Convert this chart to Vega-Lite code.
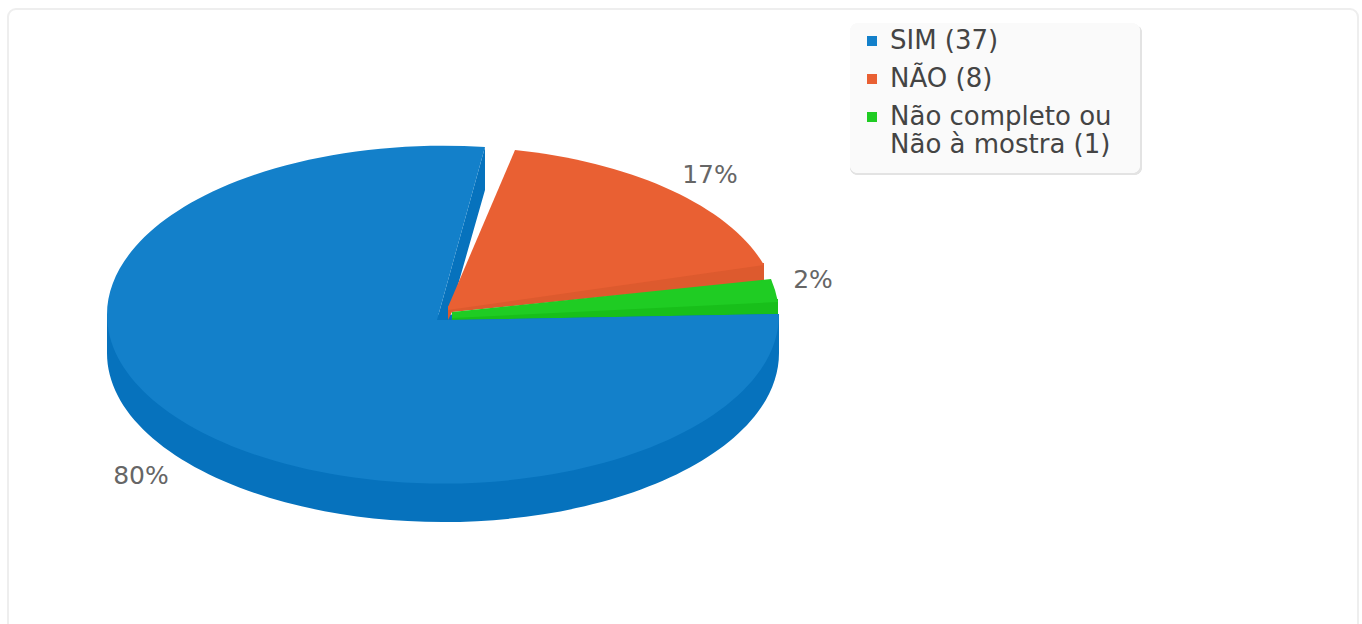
{"$schema":"https://vega.github.io/schema/vega-lite/v6.json","width":1350,"height":640,"autosize":{"type":"none"},"padding":{"left":8,"top":9,"right":4,"bottom":0},"background":"#ffffff","config":{"view":{"stroke":"#eeeeee","strokeWidth":2,"cornerRadius":8},"font":"DejaVu Sans"},"datasets":{"slices":[{"answer":"SIM (37)","count":37,"share":0.8},{"answer":"NÃO (8)","count":8,"share":0.17},{"answer":"Não completo ou Não à mostra (1)","count":1,"share":0.02}]},"data":{"name":"slices"},"resolve":{"scale":{"x":"independent","y":"independent","shape":"independent","color":"independent"}},"layer":[{"mark":{"type":"point","filled":true,"opacity":1,"strokeWidth":0,"color":"#e3e3e3","shape":"M415,-290 H691 A8,8 0 0 1 699,-282 V-148 A8,8 0 0 1 691,-140 H415 A8,8 0 0 1 407,-148 V-282 A8,8 0 0 1 415,-290 Z"},"encoding":{"x":{"datum":435,"type":"quantitative","scale":{"domain":[0,1350]},"axis":null},"y":{"datum":306,"type":"quantitative","scale":{"domain":[0,640],"reverse":true},"axis":null},"size":{"value":4}}},{"mark":{"type":"point","filled":true,"opacity":1,"strokeWidth":0,"color":"#fafafa","shape":"M415,-292 H689 A8,8 0 0 1 697,-284 V-150 A8,8 0 0 1 689,-142 H415 A8,8 0 0 1 407,-150 V-284 A8,8 0 0 1 415,-292 Z"},"encoding":{"x":{"datum":435,"type":"quantitative","scale":{"domain":[0,1350]},"axis":null},"y":{"datum":306,"type":"quantitative","scale":{"domain":[0,640],"reverse":true},"axis":null},"size":{"value":4}}},{"mark":{"type":"point","filled":true,"opacity":1,"strokeWidth":0},"encoding":{"x":{"datum":435,"type":"quantitative","scale":{"domain":[0,1350]},"axis":null},"y":{"datum":306,"type":"quantitative","scale":{"domain":[0,640],"reverse":true},"axis":null},"size":{"value":4},"shape":{"field":"answer","type":"nominal","legend":null,"scale":{"domain":["SIM (37)","NÃO (8)","Não completo ou Não à mostra (1)"],"range":["M336,-1 V38 A336,169 0 0 1 -336,38 V0 Z M42,-168 L42,-125 L5,5 L-6,5 Z","M321,-52 L321,-34 L9,-3 L5,5 L5,-9 Z","M335,-16 L335,-1 L9,5 L9,1 Z"]}},"color":{"field":"answer","type":"nominal","legend":null,"scale":{"domain":["SIM (37)","NÃO (8)","Não completo ou Não à mostra (1)"],"range":["#0672bd","#dd5a2e","#18bf1a"]}}}},{"mark":{"type":"point","filled":true,"opacity":1,"strokeWidth":0},"encoding":{"x":{"datum":435,"type":"quantitative","scale":{"domain":[0,1350]},"axis":null},"y":{"datum":306,"type":"quantitative","scale":{"domain":[0,640],"reverse":true},"axis":null},"size":{"value":4},"shape":{"field":"answer","type":"nominal","legend":null,"scale":{"domain":["SIM (37)","NÃO (8)","Não completo ou Não à mostra (1)"],"range":["M336,-1 A336,169 0 0 1 -336,0 A336,169 0 0 1 42,-168 L-6,5 L5,5 Z","M5,-8 L72,-165 A330,165 0 0 1 321,-50 L5,-5 Z","M9,-3 L328,-36 L332,-25 L335,-13 L9,3 Z"]}},"color":{"field":"answer","type":"nominal","legend":null,"scale":{"domain":["SIM (37)","NÃO (8)","Não completo ou Não à mostra (1)"],"range":["#1380ca","#e96033","#1fcc23"]}}}},{"mark":{"type":"square","filled":true,"opacity":1,"size":0,"strokeWidth":0},"encoding":{"color":{"field":"answer","type":"nominal","title":null,"scale":{"domain":["SIM (37)","NÃO (8)","Não completo ou Não à mostra (1)"],"range":["#1380ca","#e96033","#1fcc23"]},"legend":{"orient":"none","legendX":851,"legendY":19,"padding":0,"symbolType":"square","symbolSize":100,"symbolStrokeWidth":0,"labelFontSize":26,"labelColor":"#444444","labelFont":"DejaVu Sans","labelLimit":300,"labelOffset":5,"rowPadding":12,"labelExpr":"split(replace(datum.label,' ou ',' ou|'),'|')"}}}},{"mark":{"type":"text","fontSize":25,"color":"#666666","align":"center","baseline":"middle","font":"DejaVu Sans"},"encoding":{"x":{"field":"share","type":"quantitative","axis":null,"scale":{"domain":[0.02,0.17,0.8],"range":[805,702,133]}},"y":{"field":"share","type":"quantitative","axis":null,"scale":{"domain":[0.02,0.17,0.8],"range":[271,166,467]}},"text":{"field":"share","type":"quantitative","format":".0%"}}}]}
